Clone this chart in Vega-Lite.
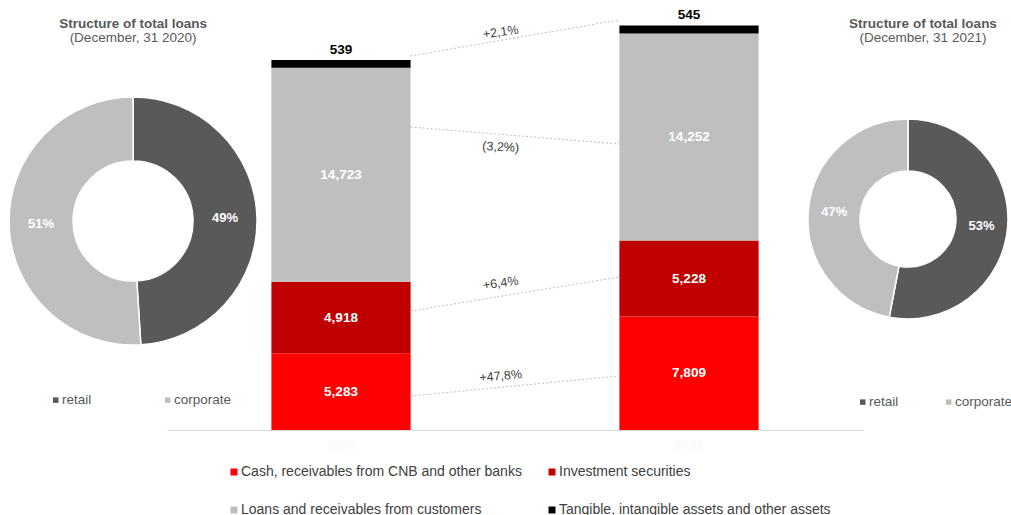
{
  "$schema": "https://vega.github.io/schema/vega-lite/v6.json",
  "padding": {"top": 8, "left": 6, "right": 0, "bottom": 0},
  "width": 696,
  "height": 370,
  "config": {
    "view": {"stroke": null},
    "font": "Liberation Sans",
    "axis": {"grid": false},
    "legend": {"labelFont": "Liberation Sans"}
  },
  "resolve": {"scale": {"color": "independent", "theta": "independent"}, "legend": {"color": "independent"}},
  "datasets": {
    "bars": [
      {"year": "2020", "category": "Cash, receivables from CNB and other banks", "value": 5283},
      {"year": "2020", "category": "Investment securities", "value": 4918},
      {"year": "2020", "category": "Loans and receivables from customers", "value": 14723},
      {"year": "2020", "category": "Tangible, intangible assets and other assets", "value": 539},
      {"year": "2021", "category": "Cash, receivables from CNB and other banks", "value": 7809},
      {"year": "2021", "category": "Investment securities", "value": 5228},
      {"year": "2021", "category": "Loans and receivables from customers", "value": 14252},
      {"year": "2021", "category": "Tangible, intangible assets and other assets", "value": 545}
    ],
    "links": [
      {"from": "2020", "to": "2021", "start": 25740, "end": 28220, "label": "+2,1%", "labelAt": 27390},
      {"from": "2020", "to": "2021", "start": 20850, "end": 19680, "label": "(3,2%)", "labelAt": 19480},
      {"from": "2020", "to": "2021", "start": 8190, "end": 10530, "label": "+6,4%", "labelAt": 10120},
      {"from": "2020", "to": "2021", "start": 2340, "end": 3720, "label": "+47,8%", "labelAt": 3720}
    ],
    "loans2020": [
      {"segment": "retail", "share": 0.49},
      {"segment": "corporate", "share": 0.51}
    ],
    "loans2021": [
      {"segment": "retail", "share": 0.53},
      {"segment": "corporate", "share": 0.47}
    ]
  },
  "layer": [
    {
      "data": {"name": "bars"},
      "mark": {"type": "bar"},
      "encoding": {
        "x": {
          "field": "year", "type": "nominal", "title": null,
          "scale": {"paddingInner": 0.6, "paddingOuter": 0.3},
          "axis": {"title": null, "domainColor": "#D9D9D9", "domainWidth": 1, "ticks": false, "labelColor": "#F7F7F7", "labelFontSize": 13, "labelPadding": 9, "labelAngle": 0}
        },
        "y": {"field": "value", "type": "quantitative", "stack": "zero", "scale": {"domain": [0, 25463], "nice": false}, "axis": null},
        "order": {"field": "category"},
        "color": {
          "field": "category",
          "type": "nominal",
          "scale": {
            "domain": ["Cash, receivables from CNB and other banks", "Loans and receivables from customers", "Investment securities", "Tangible, intangible assets and other assets"],
            "range": ["#FF0000", "#BFBFBF", "#C00000", "#000000"]
          },
          "legend": {
            "orient": "none", "legendX": 60, "legendY": 405, "columns": 2, "title": null,
            "symbolType": "square", "symbolSize": 49, "symbolStrokeWidth": 0,
            "labelFontSize": 14, "labelColor": "#404040", "columnPadding": 23, "rowPadding": 24, "labelOffset": 0, "labelLimit": 400
          }
        }
      }
    },
    {
      "data": {"name": "bars"},
      "mark": {"type": "text", "fontWeight": "bold", "fontSize": 13.5, "baseline": "middle", "color": "#ffffff"},
      "encoding": {
        "x": {"field": "year", "type": "nominal", "title": null},
        "y": {"field": "value", "type": "quantitative", "stack": "zero", "bandPosition": 0.5},
        "order": {"field": "category"},
        "text": {
          "field": "value", "type": "quantitative", "format": ",",
          "condition": {"test": "datum.category === 'Tangible, intangible assets and other assets'", "value": ""}
        }
      }
    },
    {
      "data": {"name": "bars"},
      "mark": {"type": "text", "fontWeight": "bold", "fontSize": 13.5, "baseline": "alphabetic", "dy": -6.5, "color": "#000000"},
      "encoding": {
        "x": {"field": "year", "type": "nominal", "title": null},
        "y": {"field": "value", "type": "quantitative", "stack": "zero", "bandPosition": 1},
        "order": {"field": "category"},
        "text": {
          "field": "value", "type": "quantitative", "format": ",",
          "condition": {"test": "datum.category !== 'Tangible, intangible assets and other assets'", "value": ""}
        }
      }
    },
    {
      "data": {"name": "links"},
      "mark": {"type": "rule", "strokeDash": [2, 2], "color": "#BFBFBF", "strokeWidth": 1},
      "encoding": {
        "x": {"field": "from", "type": "nominal", "bandPosition": 1, "title": null},
        "x2": {"field": "to", "bandPosition": 0, "title": null},
        "y": {"field": "start", "type": "quantitative"},
        "y2": {"field": "end"}
      }
    },
    {
      "data": {"name": "links"},
      "mark": {"type": "text", "fontSize": 12.5, "color": "#404040", "baseline": "middle"},
      "encoding": {
        "x": {"field": "from", "type": "nominal", "bandPosition": 1.647, "title": null},
        "y": {"field": "labelAt", "type": "quantitative"},
        "text": {"field": "label"},
        "angle": {"condition": [{"test": "datum.label === '(3,2%)'", "value": 3}, {"test": "datum.label === '+47,8%'", "value": -5}], "value": -8}
      }
    },
    {
      "data": {"name": "loans2020"},
      "mark": {"type": "arc", "innerRadius": 60, "outerRadius": 124, "stroke": "#ffffff", "strokeWidth": 1.5},
      "encoding": {
        "x": {"datum": "2020", "type": "nominal", "bandPosition": -0.994},
        "y": {"datum": 14383, "type": "quantitative"},
        "theta": {"field": "share", "type": "quantitative", "stack": true},
        "order": {"field": "segment", "sort": "descending"},
        "color": {
          "field": "segment",
          "type": "nominal",
          "scale": {"domain": ["retail", "corporate"], "range": ["#595959", "#BFBFBF"]},
          "legend": {
            "orient": "none", "legendX": -118, "legendY": 333, "direction": "horizontal", "title": null,
            "symbolType": "square", "symbolSize": 30, "symbolStrokeWidth": 0,
            "labelFontSize": 13.5, "labelColor": "#595959", "columnPadding": 69, "labelOffset": -0.5
          }
        }
      }
    },
    {
      "data": {"name": "loans2020"},
      "mark": {"type": "text", "radius": 92, "fontWeight": "bold", "fontSize": 13, "color": "#ffffff"},
      "encoding": {
        "x": {"datum": "2020", "type": "nominal", "bandPosition": -0.994},
        "y": {"datum": 14383, "type": "quantitative"},
        "theta": {"field": "share", "type": "quantitative", "stack": true},
        "order": {"field": "segment", "sort": "descending"},
        "text": {"field": "share", "type": "quantitative", "format": ".0%"}
      }
    },
    {
      "data": {"name": "loans2021"},
      "mark": {"type": "arc", "innerRadius": 48, "outerRadius": 100, "stroke": "#ffffff", "strokeWidth": 1.5},
      "encoding": {
        "x": {"datum": "2021", "type": "nominal", "bandPosition": 2.073},
        "y": {"datum": 14521, "type": "quantitative"},
        "theta": {"field": "share", "type": "quantitative", "stack": true},
        "order": {"field": "segment", "sort": "descending"},
        "color": {
          "field": "segment",
          "type": "nominal",
          "scale": {"domain": ["retail", "corporate"], "range": ["#595959", "#BFBFBF"]},
          "legend": {
            "orient": "none", "legendX": 689, "legendY": 335, "direction": "horizontal", "title": null,
            "symbolType": "square", "symbolSize": 30, "symbolStrokeWidth": 0,
            "labelFontSize": 13.5, "labelColor": "#595959", "columnPadding": 43, "labelOffset": -0.5
          }
        }
      }
    },
    {
      "data": {"name": "loans2021"},
      "mark": {"type": "text", "radius": 74, "fontWeight": "bold", "fontSize": 13, "color": "#ffffff"},
      "encoding": {
        "x": {"datum": "2021", "type": "nominal", "bandPosition": 2.073},
        "y": {"datum": 14521, "type": "quantitative"},
        "theta": {"field": "share", "type": "quantitative", "stack": true},
        "order": {"field": "segment", "sort": "descending"},
        "text": {"field": "share", "type": "quantitative", "format": ".0%"}
      }
    },
    {
      "data": {"values": [{}]},
      "mark": {"type": "text", "text": "Structure of total loans", "fontWeight": "bold", "fontSize": 13.5, "color": "#595959", "baseline": "alphabetic"},
      "encoding": {
        "x": {"datum": "2020", "type": "nominal", "bandPosition": -0.994},
        "y": {"datum": 27665, "type": "quantitative"}
      }
    },
    {
      "data": {"values": [{}]},
      "mark": {"type": "text", "text": "(December, 31 2020)", "fontSize": 13.5, "color": "#595959", "baseline": "alphabetic"},
      "encoding": {
        "x": {"datum": "2020", "type": "nominal", "bandPosition": -0.994},
        "y": {"datum": 26702, "type": "quantitative"}
      }
    },
    {
      "data": {"values": [{}]},
      "mark": {"type": "text", "text": "Structure of total loans", "fontWeight": "bold", "fontSize": 13.5, "color": "#595959", "baseline": "alphabetic"},
      "encoding": {
        "x": {"datum": "2021", "type": "nominal", "bandPosition": 2.181},
        "y": {"datum": 27665, "type": "quantitative"}
      }
    },
    {
      "data": {"values": [{}]},
      "mark": {"type": "text", "text": "(December, 31 2021)", "fontSize": 13.5, "color": "#595959", "baseline": "alphabetic"},
      "encoding": {
        "x": {"datum": "2021", "type": "nominal", "bandPosition": 2.181},
        "y": {"datum": 26702, "type": "quantitative"}
      }
    }
  ]
}
